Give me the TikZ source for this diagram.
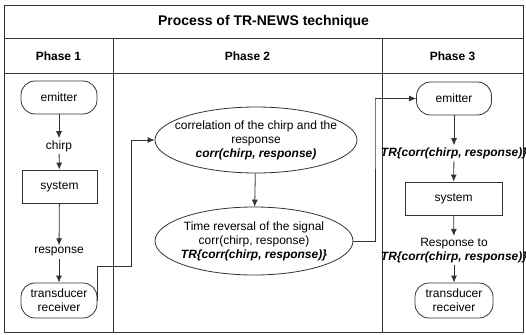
\documentclass[tikz,border=0pt]{standalone}
\usepackage{fontspec}
\setmainfont{Liberation Sans}
\usetikzlibrary{shapes.geometric}
\usetikzlibrary{arrows.meta}
\tikzset{>={Latex[length=7pt,width=6pt]}}
\colorlet{myline}{black!80}
\tikzset{
  txt/.style={font=\fontsize{12}{14}\selectfont, align=center, inner sep=2pt},
  term/.style={txt, draw=myline, line width=0.8pt, rounded corners=14pt, minimum width=76pt, minimum height=33pt, inner sep=0pt},
  proc/.style={txt, draw=myline, line width=0.8pt, minimum height=33pt, inner sep=0pt},
  oval/.style={draw=myline, line width=0.8pt, ellipse, inner sep=0pt},
  flow/.style={->, myline, line width=0.8pt},
  grid/.style={myline, line width=0.8pt},
  head/.style={font=\bfseries\fontsize{12}{14}\selectfont},
}
\newcommand{\trcorr}{\textbf{\textit{TR\{corr(chirp, response)\}}}}

\begin{document}
\begin{tikzpicture}[x=1pt, y=-1pt]
    \useasboundingbox (0,0) rectangle (526,334);

    % TABLE
    \draw[grid] (4,5) rectangle (523,332);
    \draw[grid] (4,38) -- (523,38);
    \draw[grid] (4,73) -- (523,73);
    \draw[grid] (113,38) -- (113,332);
    \draw[grid] (382,38) -- (382,332);
    \node[font=\bfseries\fontsize{14}{16}\selectfont] (title) at (263.5,21.5) {Process of TR-NEWS technique};
    \node[head] (ph1) at (58.5,56) {Phase 1};
    \node[head] (ph2) at (247.5,56) {Phase 2};
    \node[head] (ph3) at (452.5,56) {Phase 3};

    % PHASE 1
    \node[term] (emit1) at (59,97.5) {emitter};
    \node[txt] (chirp) at (59,146) {chirp};
    \node[proc, minimum width=75pt] (sys1) at (59.5,186.5) {system};
    \node[txt] (resp1) at (59,252) {response};
    \node[term, minimum height=35pt] (rcv1) at (59,300.5) {transducer\\receiver};

    \draw[flow] (emit1) -- (chirp);
    \draw[flow] (chirp) -- (sys1);
    \draw[flow] (sys1) -- (resp1);
    \draw[flow] (resp1) -- (rcv1);

    % PHASE 2
    \node[oval, minimum width=202pt, minimum height=66pt,
      label={[txt]center:{correlation of the chirp and the\\response\\\textbf{\textit{corr(chirp, response)}}}}]
      (corr) at (256,140) {};
    \node[oval, minimum width=198pt, minimum height=68pt,
      label={[txt]center:{Time reversal of the signal\\corr(chirp, response)\\\trcorr}}]
      (trev) at (254,241) {};

    \draw[flow] (corr) -- (trev);

    % PHASE 3
    \node[term, minimum width=75pt] (emit2) at (454,98.5) {emitter};
    \node[txt] (trlab) at (454,153) {\trcorr};
    \node[proc, minimum width=97pt] (sys2) at (453.5,198.5) {system};
    \node[txt] (resp2) at (454,250.5) {Response to\\\trcorr};
    \node[term, minimum width=78pt, minimum height=35pt] (rcv2) at (454,300.5) {transducer\\receiver};

    \draw[flow] (emit2) -- (trlab);
    \draw[flow] (trlab) -- (sys2);
    \draw[flow] (sys2) -- (resp2);
    \draw[flow] (resp2) -- (rcv2);

    % LINKS BETWEEN PHASES
    \coordinate (J1) at (131,266);
    \coordinate (J2) at (375,98);
    \draw[flow] (rcv1.east) |- (J1) |- (corr.west);
    \draw[flow] (trev.east) -| (J2) |- (emit2.west);

\end{tikzpicture}
\end{document}
